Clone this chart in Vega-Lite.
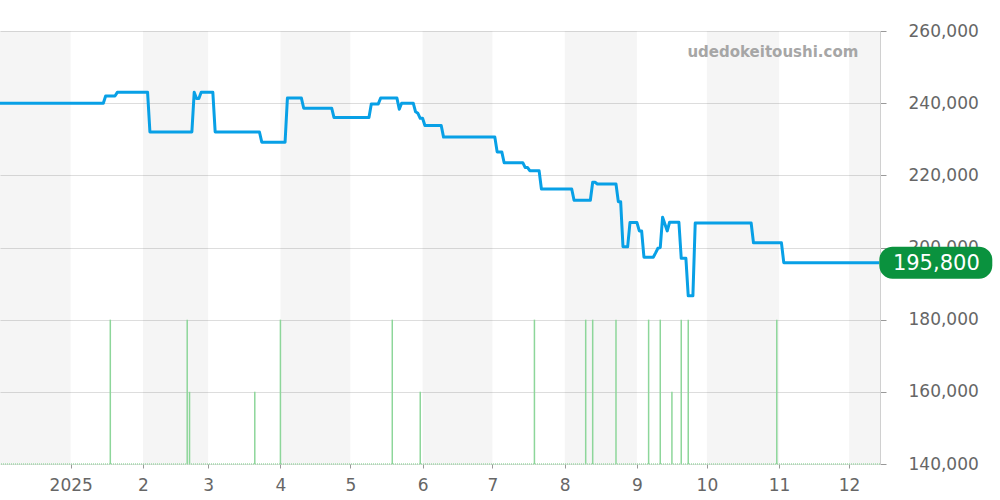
{
  "$schema": "https://vega.github.io/schema/vega-lite/v6.json",
  "width": 880,
  "height": 433,
  "autosize": "none",
  "padding": {"left": 0, "top": 31, "right": 120, "bottom": 36},
  "background": "white",
  "config": {"view": {"stroke": null}, "font": "DejaVu Sans"},
  "datasets": {
    "bands": [
      {"start": "2024-12-01", "end": "2025-01-01"},
      {"start": "2025-02-01", "end": "2025-03-01"},
      {"start": "2025-04-01", "end": "2025-05-01"},
      {"start": "2025-06-01", "end": "2025-07-01"},
      {"start": "2025-08-01", "end": "2025-09-01"},
      {"start": "2025-10-01", "end": "2025-11-01"},
      {"start": "2025-12-01", "end": "2025-12-31"}
    ],
    "volume": [
      {"date": "2025-01-18", "count": 2},
      {"date": "2025-02-20", "count": 2},
      {"date": "2025-02-21", "count": 1},
      {"date": "2025-03-21", "count": 1},
      {"date": "2025-04-01", "count": 2},
      {"date": "2025-05-19", "count": 2},
      {"date": "2025-05-31", "count": 1},
      {"date": "2025-07-19", "count": 2},
      {"date": "2025-08-10", "count": 2},
      {"date": "2025-08-13", "count": 2},
      {"date": "2025-08-23", "count": 2},
      {"date": "2025-09-06", "count": 2},
      {"date": "2025-09-11", "count": 2},
      {"date": "2025-09-16", "count": 1},
      {"date": "2025-09-20", "count": 2},
      {"date": "2025-09-23", "count": 2},
      {"date": "2025-10-31", "count": 2}
    ],
    "price": [
      {"date": "2024-12-01", "price": 240000},
      {"date": "2025-01-15", "price": 240000},
      {"date": "2025-01-16", "price": 242000},
      {"date": "2025-01-20", "price": 242000},
      {"date": "2025-01-21", "price": 243000},
      {"date": "2025-02-03", "price": 243000},
      {"date": "2025-02-04", "price": 232000},
      {"date": "2025-02-22", "price": 232000},
      {"date": "2025-02-23", "price": 243000},
      {"date": "2025-02-24", "price": 241300},
      {"date": "2025-02-25", "price": 241300},
      {"date": "2025-02-26", "price": 243000},
      {"date": "2025-03-03", "price": 243000},
      {"date": "2025-03-04", "price": 232000},
      {"date": "2025-03-23", "price": 232000},
      {"date": "2025-03-24", "price": 229200},
      {"date": "2025-04-03", "price": 229200},
      {"date": "2025-04-04", "price": 241400},
      {"date": "2025-04-10", "price": 241400},
      {"date": "2025-04-11", "price": 238600},
      {"date": "2025-04-23", "price": 238600},
      {"date": "2025-04-24", "price": 236000},
      {"date": "2025-05-09", "price": 236000},
      {"date": "2025-05-10", "price": 239800},
      {"date": "2025-05-13", "price": 239800},
      {"date": "2025-05-14", "price": 241400},
      {"date": "2025-05-21", "price": 241400},
      {"date": "2025-05-22", "price": 238300},
      {"date": "2025-05-23", "price": 240000},
      {"date": "2025-05-28", "price": 240000},
      {"date": "2025-05-29", "price": 237600},
      {"date": "2025-05-30", "price": 237200},
      {"date": "2025-05-31", "price": 235800},
      {"date": "2025-06-01", "price": 235800},
      {"date": "2025-06-02", "price": 233800},
      {"date": "2025-06-09", "price": 233800},
      {"date": "2025-06-10", "price": 230600},
      {"date": "2025-07-02", "price": 230600},
      {"date": "2025-07-03", "price": 226500},
      {"date": "2025-07-05", "price": 226500},
      {"date": "2025-07-06", "price": 223500},
      {"date": "2025-07-14", "price": 223500},
      {"date": "2025-07-15", "price": 222200},
      {"date": "2025-07-16", "price": 222200},
      {"date": "2025-07-17", "price": 221300},
      {"date": "2025-07-21", "price": 221300},
      {"date": "2025-07-22", "price": 216200},
      {"date": "2025-08-04", "price": 216200},
      {"date": "2025-08-05", "price": 213100},
      {"date": "2025-08-12", "price": 213100},
      {"date": "2025-08-13", "price": 218100},
      {"date": "2025-08-14", "price": 218100},
      {"date": "2025-08-15", "price": 217600},
      {"date": "2025-08-23", "price": 217600},
      {"date": "2025-08-24", "price": 212700},
      {"date": "2025-08-25", "price": 212700},
      {"date": "2025-08-26", "price": 200200},
      {"date": "2025-08-28", "price": 200200},
      {"date": "2025-08-29", "price": 206900},
      {"date": "2025-09-01", "price": 206900},
      {"date": "2025-09-02", "price": 204600},
      {"date": "2025-09-03", "price": 204600},
      {"date": "2025-09-04", "price": 197300},
      {"date": "2025-09-08", "price": 197300},
      {"date": "2025-09-09", "price": 198500},
      {"date": "2025-09-10", "price": 199800},
      {"date": "2025-09-11", "price": 200000},
      {"date": "2025-09-12", "price": 208400},
      {"date": "2025-09-14", "price": 204600},
      {"date": "2025-09-15", "price": 207000},
      {"date": "2025-09-19", "price": 207000},
      {"date": "2025-09-20", "price": 197000},
      {"date": "2025-09-22", "price": 197000},
      {"date": "2025-09-23", "price": 186600},
      {"date": "2025-09-25", "price": 186600},
      {"date": "2025-09-26", "price": 206800},
      {"date": "2025-10-20", "price": 206800},
      {"date": "2025-10-21", "price": 201300},
      {"date": "2025-11-02", "price": 201300},
      {"date": "2025-11-03", "price": 195800},
      {"date": "2025-12-14", "price": 195800}
    ],
    "latest": [{"date": "2025-12-14", "price": 195800}],
    "site": [{"name": "udedokeitoushi.com", "date": "2025-12-05", "price": 254200}],
    "baseline": [{"count": 0}]
  },
  "resolve": {"scale": {"y": "independent"}, "axis": {"y": "independent"}},
  "layer": [
    {
      "data": {"name": "bands"},
      "mark": {"type": "rect", "fill": "#000000", "opacity": 0.04, "clip": true},
      "encoding": {
        "x": {
          "field": "start", "type": "temporal", "title": null,
          "scale": {"type": "utc", "nice": false, "domain": [{"year": 2024, "month": 12, "date": 1, "hours": 16, "utc": true}, {"year": 2025, "month": 12, "date": 14, "hours": 7, "utc": true}]},
          "axis": {
            "values": [
              {"year": 2025, "month": 1, "date": 1, "utc": true},
              {"year": 2025, "month": 2, "date": 1, "utc": true},
              {"year": 2025, "month": 3, "date": 1, "utc": true},
              {"year": 2025, "month": 4, "date": 1, "utc": true},
              {"year": 2025, "month": 5, "date": 1, "utc": true},
              {"year": 2025, "month": 6, "date": 1, "utc": true},
              {"year": 2025, "month": 7, "date": 1, "utc": true},
              {"year": 2025, "month": 8, "date": 1, "utc": true},
              {"year": 2025, "month": 9, "date": 1, "utc": true},
              {"year": 2025, "month": 10, "date": 1, "utc": true},
              {"year": 2025, "month": 11, "date": 1, "utc": true},
              {"year": 2025, "month": 12, "date": 1, "utc": true}
            ],
            "labelExpr": "utcmonth(datum.value) == 0 ? '' + utcyear(datum.value) : '' + (utcmonth(datum.value) + 1)",
            "grid": false, "domain": false,
            "tickColor": "#999999", "tickSize": 4,
            "labelFontSize": 17, "labelColor": "#666666", "labelPadding": 9,
            "labelFlush": false, "labelOverlap": false, "title": null
          }
        },
        "x2": {"field": "end"}
      }
    },
    {
      "data": {"name": "baseline"},
      "mark": {"type": "rule", "color": "#9fdaa8", "strokeWidth": 1.5, "strokeDash": [1, 1]},
      "encoding": {
        "y": {"field": "count", "type": "quantitative", "scale": {"domain": [0, 6], "nice": false}, "axis": null}
      }
    },
    {
      "data": {"name": "volume"},
      "mark": {"type": "rule", "color": "#8dd69a", "strokeWidth": 1.5},
      "encoding": {
        "x": {"field": "date", "type": "temporal", "title": null, "scale": {"type": "utc", "nice": false, "domain": [{"year": 2024, "month": 12, "date": 1, "hours": 16, "utc": true}, {"year": 2025, "month": 12, "date": 14, "hours": 7, "utc": true}]}},
        "y": {"field": "count", "type": "quantitative", "scale": {"domain": [0, 6], "nice": false}, "axis": null},
        "y2": {"datum": 0}
      }
    },
    {
      "data": {"name": "price"},
      "mark": {"type": "line", "color": "#08a0e6", "strokeWidth": 3, "clip": true, "strokeJoin": "round"},
      "encoding": {
        "x": {"field": "date", "type": "temporal", "title": null, "scale": {"type": "utc", "nice": false, "domain": [{"year": 2024, "month": 12, "date": 1, "hours": 16, "utc": true}, {"year": 2025, "month": 12, "date": 14, "hours": 7, "utc": true}]}},
        "y": {
          "field": "price", "type": "quantitative", "title": null,
          "scale": {"domain": [140000, 260000], "nice": false, "zero": false},
          "axis": {
            "orient": "right",
            "values": [140000, 160000, 180000, 200000, 220000, 240000, 260000],
            "format": ",.0f",
            "grid": true, "gridColor": "#dddddd", "gridWidth": 1,
            "domainColor": "#d0d0d0", "tickColor": "#999999", "tickSize": 6,
            "labelPadding": 22, "labelFontSize": 17, "labelColor": "#666666",
            "title": null
          }
        }
      }
    },
    {
      "data": {"name": "latest"},
      "mark": {
        "type": "point", "filled": true, "opacity": 1, "fill": "#0a923e", "strokeWidth": 0,
        "shape": "M0.22,-0.267 H1.663 A0.22,0.22 0 0 1 1.883,-0.047 V0.047 A0.22,0.22 0 0 1 1.663,0.267 H0.22 A0.22,0.22 0 0 1 0,0.047 V-0.047 A0.22,0.22 0 0 1 0.22,-0.267 Z",
        "size": 14400
      },
      "encoding": {
        "x": {"field": "date", "type": "temporal", "title": null, "scale": {"type": "utc", "nice": false, "domain": [{"year": 2024, "month": 12, "date": 1, "hours": 16, "utc": true}, {"year": 2025, "month": 12, "date": 14, "hours": 7, "utc": true}]}},
        "y": {"field": "price", "type": "quantitative", "scale": {"domain": [140000, 260000], "nice": false, "zero": false}, "axis": null}
      }
    },
    {
      "data": {"name": "latest"},
      "mark": {"type": "text", "color": "#ffffff", "fontSize": 21, "align": "center", "baseline": "middle", "dx": 57, "dy": 1},
      "encoding": {
        "x": {"field": "date", "type": "temporal", "title": null, "scale": {"type": "utc", "nice": false, "domain": [{"year": 2024, "month": 12, "date": 1, "hours": 16, "utc": true}, {"year": 2025, "month": 12, "date": 14, "hours": 7, "utc": true}]}},
        "y": {"field": "price", "type": "quantitative", "scale": {"domain": [140000, 260000], "nice": false, "zero": false}, "axis": null},
        "text": {"field": "price", "type": "quantitative", "format": ","}
      }
    },
    {
      "data": {"name": "site"},
      "mark": {"type": "text", "color": "#a6a6a6", "fontSize": 15, "fontWeight": "bold", "align": "right", "baseline": "middle"},
      "encoding": {
        "x": {"field": "date", "type": "temporal", "title": null, "scale": {"type": "utc", "nice": false, "domain": [{"year": 2024, "month": 12, "date": 1, "hours": 16, "utc": true}, {"year": 2025, "month": 12, "date": 14, "hours": 7, "utc": true}]}},
        "y": {"field": "price", "type": "quantitative", "scale": {"domain": [140000, 260000], "nice": false, "zero": false}, "axis": null},
        "text": {"field": "name", "type": "nominal"}
      }
    }
  ]
}
